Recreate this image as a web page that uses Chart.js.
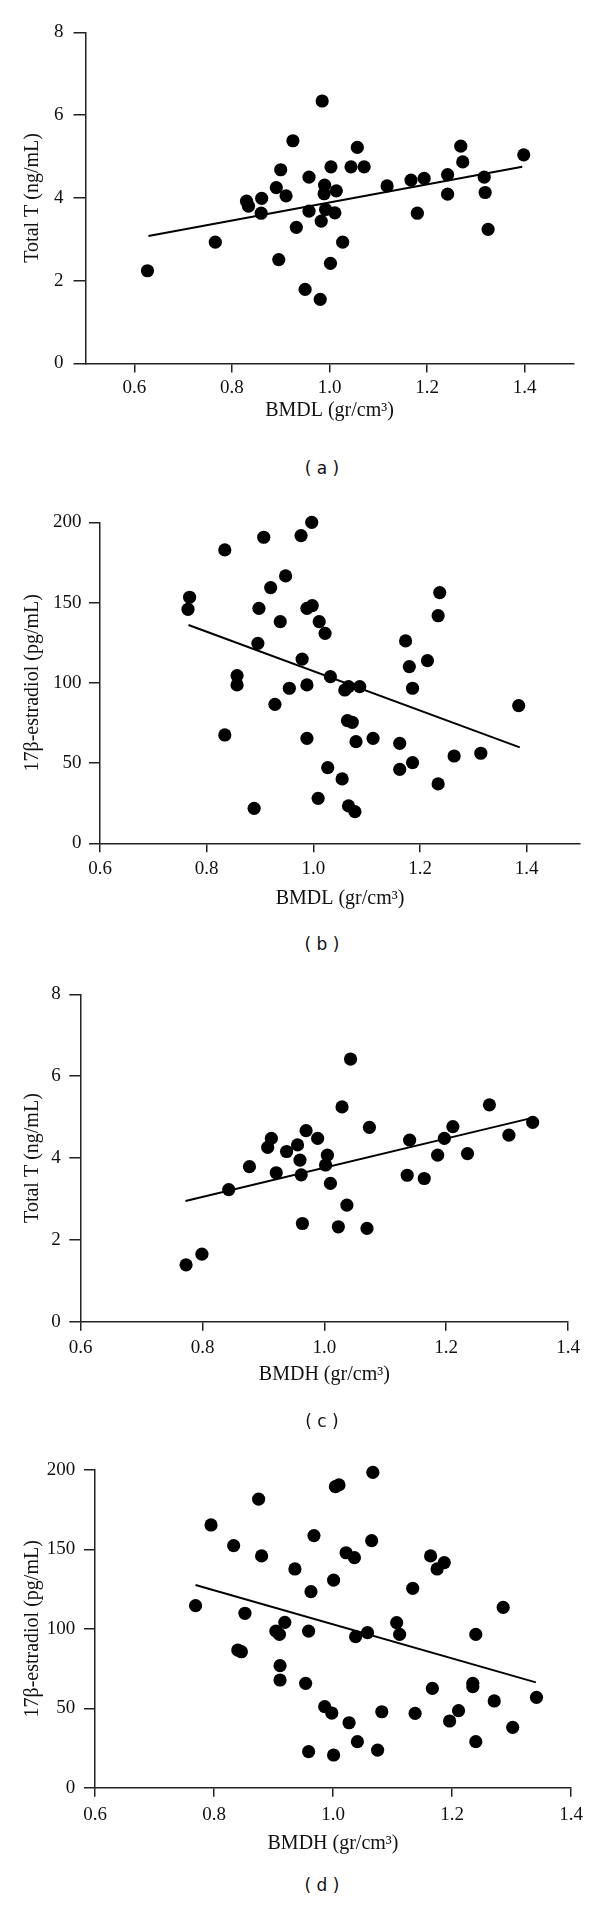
<!DOCTYPE html>
<html>
<head>
<meta charset="utf-8">
<script src="https://cdn.jsdelivr.net/npm/chart.js@4"></script>
<style>
  html, body { margin: 0; padding: 0; background: #fff; }
  body { width: 600px; height: 1907px; position: relative; overflow: hidden; }
  canvas { position: absolute; left: 0; }
  .cap { position: absolute; left: 0; width: 644px; text-align: center;
         font: 17px "DejaVu Sans", sans-serif; line-height: 20px; color: #111; }
</style>
</head>
<body>
<canvas id="pa" width="600" height="440" style="top:0px"></canvas>
<canvas id="pb" width="600" height="440" style="top:480px"></canvas>
<canvas id="pc" width="600" height="440" style="top:955px"></canvas>
<canvas id="pd" width="600" height="440" style="top:1430px"></canvas>
<div class="cap" style="top:458px">( a )</div>
<div class="cap" style="top:934px">( b )</div>
<div class="cap" style="top:1411px">( c )</div>
<div class="cap" style="top:1875px">( d )</div>
<script>
// tick values
const xTicks = [0.6, 0.8, 1.0, 1.2, 1.4];
const testoTicks = [0, 2, 4, 6, 8];
const estraTicks = [0, 50, 100, 150, 200];

// (a) BMDL vs total T
const bmdlA = [0.627,0.766,0.830,0.834,0.861,0.860,0.891,0.900,0.911,0.896,0.925,0.932,0.958,0.958,0.950,0.985,0.990,0.989,0.992,0.983,0.981,1.003,1.014,1.011,1.002,1.027,1.044,1.057,1.071,1.118,1.167,1.194,1.180,1.242,1.242,1.269,1.273,1.317,1.319,1.325,1.398];
const testoA = [2.24,2.93,3.92,3.80,3.99,3.63,4.25,4.68,4.05,2.51,5.38,3.29,4.50,3.68,1.79,6.34,4.31,4.10,3.72,3.44,1.55,4.75,4.17,3.64,2.42,2.93,4.75,5.22,4.75,4.29,4.43,4.47,3.63,4.56,4.09,5.25,4.87,4.50,4.13,3.24,5.04];
const fitAx = [0.629, 1.395], fitAy = [3.08, 4.75];

// (b) BMDL vs 17b-estradiol
const bmdlB = [0.765,0.768,0.834,0.834,0.857,0.857,0.889,0.896,0.898,0.907,0.920,0.928,0.938,0.948,0.955,0.977,0.979,0.988,0.988,0.988,0.998,0.997,1.011,1.022,1.009,1.027,1.032,1.054,1.059,1.066,1.064,1.073,1.066,1.078,1.080,1.087,1.112,1.162,1.162,1.173,1.180,1.186,1.186,1.214,1.234,1.237,1.234,1.264,1.314,1.385];
const estraB = [145.8,153.3,182.8,67.5,104.5,98.7,21.8,124.6,146.4,190.7,159.3,86.6,138.1,166.6,96.6,191.7,114.8,98.7,65.4,146.4,148.1,200,138.1,130.8,28.0,47.1,103.8,40.1,95.5,97.6,76.4,75.4,23.3,19.7,63.3,97.6,65.4,62.3,46.1,126.1,110.1,96.6,50.3,113.8,141.8,156.2,37.0,54.4,56.1,85.8];
const fitBx = [0.766, 1.387], fitBy = [136.0, 59.8];

// (c) BMDH vs total T
const bmdhC = [0.773,0.799,0.843,0.877,0.907,0.913,0.921,0.938,0.956,0.970,0.989,0.960,0.962,1.005,1.002,1.010,0.964,1.029,1.043,1.037,1.023,1.070,1.074,1.136,1.140,1.164,1.186,1.197,1.211,1.235,1.271,1.303,1.342];
const testoC = [1.39,1.65,3.23,3.79,4.26,4.48,3.64,4.16,4.32,4.67,4.48,3.95,3.59,4.07,3.83,3.38,2.40,5.25,6.42,2.85,2.32,2.28,4.75,3.58,4.44,3.50,4.07,4.48,4.77,4.11,5.30,4.56,4.87];
const fitCx = [0.772, 1.338], fitCy = [2.95, 4.97];

// (d) BMDH vs 17b-estradiol
const bmdhD = [0.769,0.795,0.833,0.852,0.840,0.846,0.875,0.880,0.904,0.910,0.919,0.911,0.911,0.936,0.954,0.959,0.963,0.968,0.959,0.986,0.998,1.001,1.001,1.004,1.010,1.022,1.036,1.027,1.038,1.041,1.058,1.065,1.067,1.075,1.082,1.107,1.112,1.134,1.138,1.164,1.167,1.175,1.187,1.196,1.211,1.235,1.235,1.240,1.240,1.271,1.286,1.302,1.342];
const estraD = [114.6,165.4,152.4,109.8,86.7,85.6,181.7,145.9,98.6,96.5,104.1,76.8,67.8,137.7,65.7,98.6,123.4,158.7,22.7,51.0,47.0,130.7,20.6,189.5,190.6,147.9,144.8,40.9,95.1,29.0,97.6,155.5,198.5,23.7,47.8,103.9,96.5,125.5,46.8,145.9,62.5,137.7,141.7,42.0,48.5,65.7,63.6,96.5,29.0,54.6,113.5,38.0,56.9];
const fitDx = [0.769, 1.341], fitDy = [127.6, 66.3];

Chart.defaults.font.family = '"Liberation Serif", "Times New Roman", serif';
Chart.defaults.color = '#111';

const zip = (xs, ys) => xs.map((x, i) => ({x: x, y: ys[i]}));

// p: page geometry of the plot box, canvas top/height
function makePanel(id, p, pts, fit, yTicks, xLabel, yLabel) {
  const ctx = document.getElementById(id);
  const H = 440;
  const xH = p.xTitleY - p.bottom + 12;
  new Chart(ctx, {
    type: 'scatter',
    data: {
      datasets: [{
        data: fit,
        showLine: true,
        borderColor: '#000',
        borderWidth: 2,
        pointRadius: 0,
        clip: false,
        order: 2
      }, {
        data: pts,
        backgroundColor: '#000',
        borderWidth: 0,
        pointRadius: 6.6,
        clip: false,
        order: 1
      }]
    },
    options: {
      responsive: false,
      animation: false,
      layout: {
        padding: {
          left: 0,
          right: 600 - p.right,
          top: p.top - p.canvasTop,
          bottom: p.canvasTop + H - p.bottom - xH
        }
      },
      plugins: { legend: { display: false }, tooltip: { enabled: false } },
      scales: {
        x: {
          type: 'linear',
          min: p.xmin, max: p.xmax,
          afterBuildTicks: s => { s.ticks = xTicks.map(v => ({value: v})); },
          afterFit: s => { s.height = xH; },
          ticks: { font: { size: 19 }, padding: p.xPad, maxRotation: 0,
                   callback: v => v.toFixed(1) },
          grid: { drawOnChartArea: false, drawTicks: true, tickLength: 9,
                  color: '#222', lineWidth: 1.5 },
          border: { display: true, color: '#222', width: 1.5 },
          title: { display: true, text: xLabel, font: { size: 20 },
                   padding: { top: 0, bottom: 0 } }
        },
        y: {
          type: 'linear',
          min: yTicks[0], max: yTicks[yTicks.length - 1],
          afterBuildTicks: s => { s.ticks = yTicks.map(v => ({value: v})); },
          afterFit: s => { s.width = p.left; },
          ticks: { font: { size: 19 }, padding: p.yPad },
          grid: { drawOnChartArea: false, drawTicks: true, tickLength: p.yTick,
                  color: '#222', lineWidth: 1.5 },
          border: { display: true, color: '#222', width: 1.5 },
          title: { display: true, text: yLabel, font: { size: 20 },
                   padding: { top: 20.5, bottom: 0 } }
        }
      }
    }
  });
}

makePanel('pa', {canvasTop: 0, left: 85.5, right: 573.5, top: 32.3, bottom: 363.5,
                 xmin: 0.5, xmax: 1.5, xTitleY: 410.7, xPad: 4, yPad: 10, yTick: 12},
  zip(bmdlA, testoA), zip(fitAx, fitAy), testoTicks, 'BMDL (gr/cm³)', 'Total T (ng/mL)');

makePanel('pb', {canvasTop: 480, left: 100, right: 580, top: 522.3, bottom: 843.3,
                 xmin: 0.6, xmax: 1.5, xTitleY: 898.3, xPad: 5.5, yPad: 7.5, yTick: 11},
  zip(bmdlB, estraB), zip(fitBx, fitBy), estraTicks, 'BMDL (gr/cm³)', '17β-estradiol (pg/mL)');

makePanel('pc', {canvasTop: 955, left: 80.7, right: 568, top: 994.4, bottom: 1321.7,
                 xmin: 0.6, xmax: 1.4, xTitleY: 1375, xPad: 6, yPad: 8.5, yTick: 11.4},
  zip(bmdhC, testoC), zip(fitCx, fitCy), testoTicks, 'BMDH (gr/cm³)', 'Total T (ng/mL)');

makePanel('pd', {canvasTop: 1430, left: 95, right: 571, top: 1470, bottom: 1787.7,
                 xmin: 0.6, xmax: 1.4, xTitleY: 1843.3, xPad: 7, yPad: 8.8, yTick: 11},
  zip(bmdhD, estraD), zip(fitDx, fitDy), estraTicks, 'BMDH (gr/cm³)', '17β-estradiol (pg/mL)');
</script>
</body>
</html>
